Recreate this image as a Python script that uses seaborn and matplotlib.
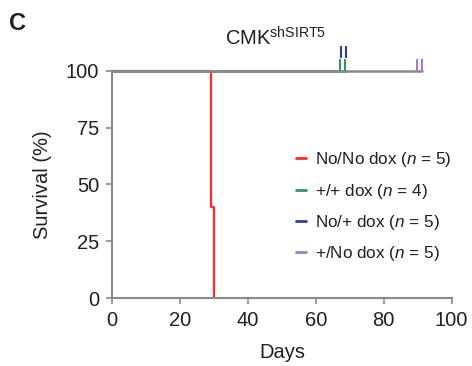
import numpy as np
import pandas as pd
import matplotlib
matplotlib.use("Agg")
import matplotlib.pyplot as plt
import matplotlib.transforms as mtransforms
from matplotlib.lines import Line2D
import seaborn as sns

# ---------------------------------------------------------
# Data
# ---------------------------------------------------------
groups = ["No/No dox", "+/+ dox", "No/+ dox", "+/No dox"]
group_n = [5, 4, 5, 5]
colors = ["#ff2a2a", "#2e9a5c", "#2f3f9e", "#a77cc6"]

# step curves: times and survival (%)
curve_times = {
    "No/No dox": [0, 29, 30],
    "+/+ dox": [0, 68.6],
    "No/+ dox": [0, 68.9],
    "+/No dox": [0, 91.2],
}
curve_surv = {
    "No/No dox": [100, 40, 0],
    "+/+ dox": [100, 100],
    "No/+ dox": [100, 100],
    "+/No dox": [100, 100],
}

# censor marks (days, survival %)
censor_times = {
    "+/+ dox": [67.1, 68.6],
    "No/+ dox": [67.4, 68.9],
    "+/No dox": [89.9, 91.2],
}
censor_level = {"+/+ dox": 0, "No/+ dox": 1, "+/No dox": 0}

x_ticks = [0, 20, 40, 60, 80, 100]
y_ticks = [0, 25, 50, 75, 100]

# ---------------------------------------------------------
# Style
# ---------------------------------------------------------
sns.set_theme(style="white")
plt.rcParams["font.family"] = ["Liberation Sans", "DejaVu Sans"]
plt.rcParams["mathtext.fontset"] = "custom"
plt.rcParams["mathtext.rm"] = "Liberation Sans"
plt.rcParams["mathtext.it"] = "Liberation Sans:italic"
txt = "#231f20"
axcol = "#8a8a8a"

fig = plt.figure(figsize=(4.72, 3.66), dpi=100)
ax = fig.add_axes([0.2379, 0.185, 0.719, 0.622])

rows = []
for g in groups:
    for t, s in zip(curve_times[g], curve_surv[g]):
        rows.append({"group": g, "Days": t, "Survival": s})
df = pd.DataFrame(rows)

# red curve first, censored groups drawn as gray lines on top
red_df = df[df["group"] == "No/No dox"]
sns.lineplot(data=red_df, x="Days", y="Survival", color=colors[0], lw=1.6,
             drawstyle="steps-post", estimator=None, ax=ax, clip_on=False)
gray_df = df[df["group"] != "No/No dox"]
for g, sub in gray_df.groupby("group"):
    sns.lineplot(data=sub, x="Days", y="Survival", color=axcol, lw=1.8,
                 drawstyle="steps-post", estimator=None, ax=ax, clip_on=False)

for g, c in zip(groups, colors):
    if g not in censor_times:
        continue
    off = mtransforms.offset_copy(ax.transData, fig=fig, x=0,
                                  y=4.2 + 9.0 * censor_level[g], units="points")
    ax.plot(censor_times[g], [100] * len(censor_times[g]), ls="none",
            marker="|", ms=8.5, mew=1.5, color=c, transform=off, clip_on=False)

ax.set_xlim(0, 100)
ax.set_ylim(0, 100)
ax.set_xticks(x_ticks)
ax.set_yticks(y_ticks)
ax.tick_params(axis="both", direction="out", length=4.5, width=1.2, color=axcol,
               labelsize=14.5, labelcolor=txt, pad=5, bottom=True, left=True)
for side in ["top", "right"]:
    ax.spines[side].set_visible(False)
for side in ["left", "bottom"]:
    ax.spines[side].set_color(axcol)
    ax.spines[side].set_linewidth(1.5)

ax.set_xlabel("Days", fontsize=14.5, color=txt, labelpad=9)
ax.set_ylabel("Survival (%)", fontsize=14.5, color=txt, labelpad=10)

handles = [Line2D([0], [0], color=c, lw=2) for c in colors]
labels = [f"{g} ($\\mathit{{n}}$ = {n})" for g, n in zip(groups, group_n)]
ax.legend(handles, labels, frameon=False, fontsize=12.3, labelcolor=txt,
          handlelength=0.6, handletextpad=0.55, labelspacing=0.72,
          loc="upper left", bbox_to_anchor=(0.52, 0.68), borderaxespad=0)

fig.text(276 / 472, 1 - 46 / 366, "CMK$^{\\mathrm{shSIRT5}}$", ha="center",
         va="baseline", fontsize=14.5, color=txt)
fig.text(9 / 472, 1 - 30 / 366, "C", fontsize=17, fontweight="bold",
         color=txt, va="baseline")

fig.savefig("out.png", dpi=100)
